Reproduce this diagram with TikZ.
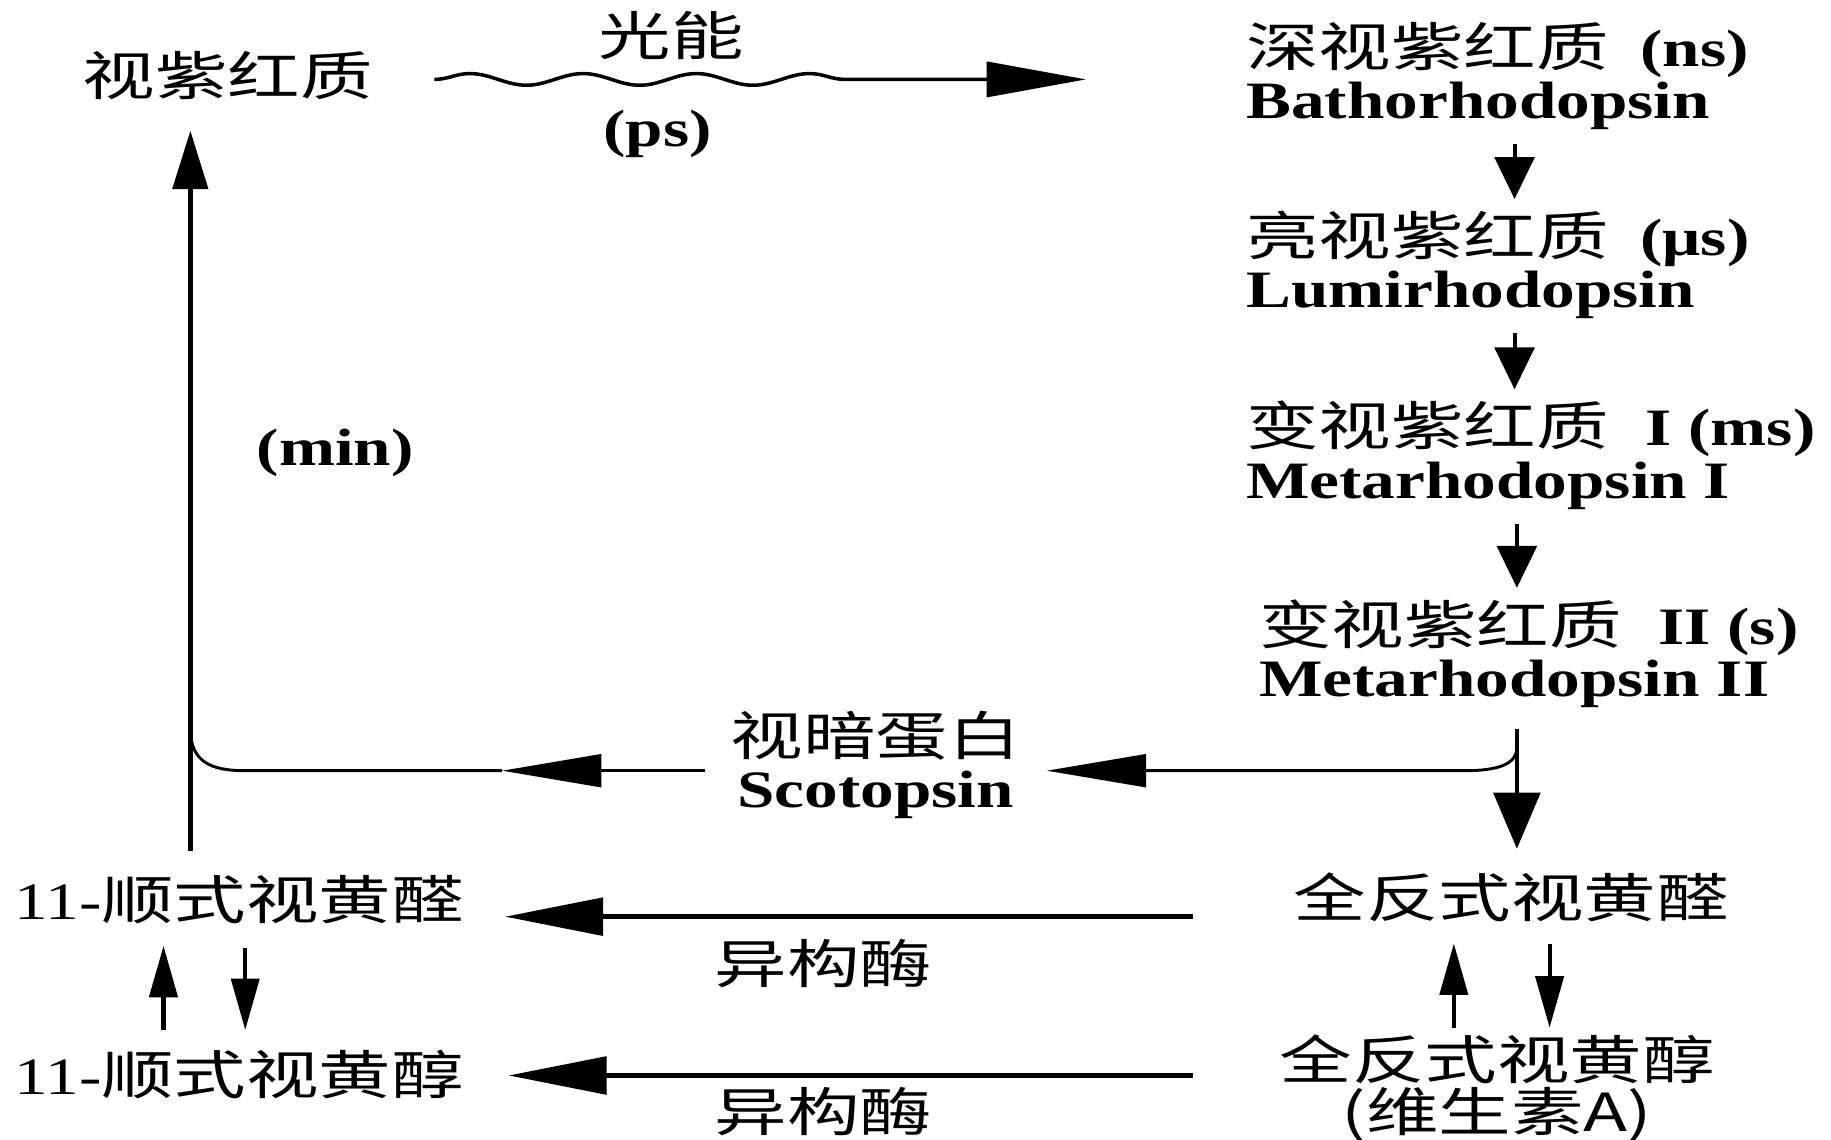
\documentclass[tikz,border=0pt]{standalone}
\usepackage{fontspec}
\setmainfont{Liberation Serif}[FakeStretch=1.28]
\newfontfamily\cjk[FakeStretch=1.38]{Noto Sans CJK SC}
\usetikzlibrary{arrows.meta}
\usetikzlibrary{positioning}
\usetikzlibrary{decorations.pathmorphing}

\begin{document}
\begin{tikzpicture}[x=1pt,y=-1pt,
    txt/.style={inner sep=0pt,font=\fontsize{45}{45}\selectfont},
    stage/.style={txt,anchor=west,align=left},
    conv/.style={line width=3.5pt,-{Triangle[length=36pt,width=34pt]}},
    iso/.style={line width=4pt,-{Triangle[length=84pt,width=32pt]}},
    pair/.style={line width=3.5pt,-{Triangle[length=44pt,width=24pt]}},
    wavy/.style={line width=3pt,-{Triangle[length=85pt,width=30pt]},
      decorate,decoration={snake,amplitude=5pt,segment length=97pt,post length=160pt}}]

    \useasboundingbox (0,0) rectangle (1568,976);

    % bleaching chain
    \node[txt] (rhod) at (195,65) {\cjk 视紫红质};
    \node[stage] (batho) at (1067,65) {{\cjk 深视紫红质}\hspace{0.6em}\textbf{(ns)}\\\textbf{Bathorhodopsin}};
    \node[stage] (lumi) at (1067,227) {{\cjk 亮视紫红质}\hspace{0.6em}\textbf{(μs)}\\\textbf{Lumirhodopsin}};
    \node[stage] (metaI) at (1067,390) {{\cjk 变视紫红质}\hspace{0.7em}\textbf{I (ms)}\\\textbf{Metarhodopsin I}};
    \node[stage] (metaII) at (1078,560) {{\cjk 变视紫红质}\hspace{0.7em}\textbf{II (s)}\\\textbf{Metarhodopsin II}};
    \node[txt,align=center] (scot) at (750,655) {{\cjk 视暗蛋白}\\\textbf{Scotopsin}};

    % retinal / retinol cycle
    \node[txt,anchor=west] (cisal) at (12,770) {11-{\cjk 顺式视黄醛}};
    \node[txt,anchor=west] (cisol) at (12,920) {11-{\cjk 顺式视黄醇}};
    \node[txt] (transal) at (1294,768) {\cjk 全反式视黄醛};
    \node[txt,align=center] (transol) at (1282,932) {{\cjk 全反式视黄醇}\\{\cjk (维生素A)}};

    % labels
    \node[txt] (light) at (575,30) {\cjk 光能};
    \node[txt] (ps) at (563,115) {\textbf{(ps)}};
    \node[txt] (min) at (287,388) {\textbf{(min)}};
    \node[txt] (iso1) at (705,825) {\cjk 异构酶};
    \node[txt] (iso2) at (705,952) {\cjk 异构酶};

    \coordinate (wstart) at (372,68);
    \coordinate (wend) at (930,68);
    \coordinate (rfork) at (1299,640);
    \coordinate (lmid) at (430,660);
    \coordinate (lfork) at (163,626);

    \draw[wavy] (wstart) -- (wend);
    \draw[conv,shorten <=12pt,shorten >=10pt] (batho.south -| 1297,0) -- (lumi.north -| 1297,0);
    \draw[conv,shorten <=12pt,shorten >=10pt] (lumi.south -| 1297,0) -- (metaI.north -| 1297,0);
    \draw[conv,shorten <=12pt,shorten >=10pt] (metaI.south -| 1299,0) -- (metaII.north -| 1299,0);
    \draw[line width=3pt,-{Triangle[length=48pt,width=40pt]},shorten <=18pt,shorten >=20pt]
      (metaII.south -| 1299,0) -- (transal.north -| 1299,0);
    \draw[line width=2.5pt,-{Triangle[length=85pt,width=28pt]},shorten >=22pt]
      (rfork) .. controls +(0,14) and +(30,0) .. ++(-45,20) -- (scot.east |- 0,660);
    \draw[line width=2.5pt,-{Triangle[length=85pt,width=28pt]},shorten <=22pt]
      (scot.west |- 0,660) -- (lmid);
    \draw[line width=2.5pt] (lmid) -- (210,660) .. controls (180,660) and (164,652) .. (lfork);
    \draw[line width=4pt,-{Triangle[length=50pt,width=30pt]},shorten <=20pt,shorten >=26pt]
      (cisal.north -| 163,0) -- (rhod.south -| 163,0);

    \draw[iso,shorten >=35pt] (1022,785) -- (cisal.east |- 0,785);
    \draw[iso,shorten >=38pt] (1022,921) -- (cisol.east |- 0,921);
    \draw[pair] (140,882) -- (140,810);
    \draw[pair] (210,812) -- (210,882);
    \draw[pair] (1245,880) -- (1245,808);
    \draw[pair] (1327,808) -- (1327,880);

\end{tikzpicture}
\end{document}
